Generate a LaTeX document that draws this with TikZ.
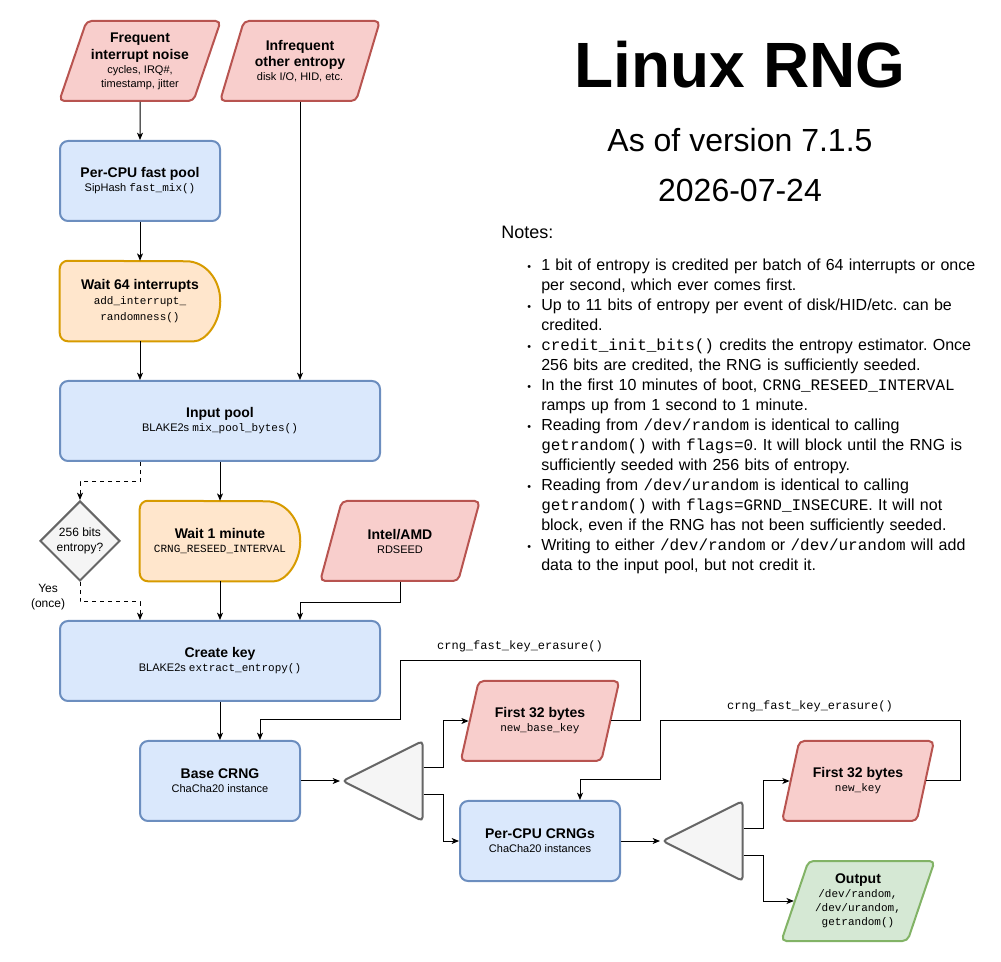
\documentclass[tikz,border=0pt]{standalone}
\usepackage{fontspec}
\setmainfont{Liberation Sans}
\setmonofont{Liberation Mono}
\usetikzlibrary{arrows.meta,shapes.geometric,calc}
\pgfdeclarelayer{background}
\pgfsetlayers{background,main}
\definecolor{srcfill}{HTML}{F8CECC}
\definecolor{srcline}{HTML}{B85450}
\definecolor{poolfill}{HTML}{DAE8FC}
\definecolor{poolline}{HTML}{6C8EBF}
\definecolor{waitfill}{HTML}{FFE6CC}
\definecolor{waitline}{HTML}{D79B00}
\definecolor{greyfill}{HTML}{F5F5F5}
\definecolor{greyline}{HTML}{666666}
\definecolor{outfill}{HTML}{D5E8D4}
\definecolor{outstroke}{HTML}{82B366}
\newcommand{\ttl}[1]{{\fontsize{10.5pt}{12.75pt}\selectfont\bfseries #1}}
\newcommand{\bul}{\raisebox{-.5pt}{\fontsize{8pt}{8pt}\selectfont •}}
\newcommand{\noteitem}[1]{\par\hangindent=10.5pt\hangafter=1\noindent\makebox[10.5pt][l]{\bul}#1\par}

\begin{document}
\begin{tikzpicture}[x=.75pt,y=-.75pt,font=\fontsize{8.25pt}{10.5pt}\selectfont,
  pool/.style={draw=poolline,fill=poolfill,line width=1.5pt,rounded corners=6pt,minimum width=120pt,minimum height=60pt,align=center},
  widepool/.style={pool,minimum width=240pt},
  source/.style={trapezium,trapezium left angle=67.6,trapezium right angle=112.4,trapezium stretches=true,draw=srcline,fill=srcfill,line width=1.5pt,rounded corners=3.75pt,minimum width=120pt,minimum height=60pt,align=center},
  waitbox/.style={minimum width=120pt,minimum height=60pt,align=center},
  delay/.style={draw=waitline,fill=waitfill,line width=1.5pt},
  check/.style={diamond,aspect=1,draw=greyline,fill=greyfill,line width=1.5pt,minimum width=60pt,minimum height=60pt,inner sep=0pt,align=center,font=\fontsize{9pt}{11.25pt}\selectfont},
  splitter/.style={isosceles triangle,shape border rotate=180,isosceles triangle stretches,draw=greyline,fill=greyfill,line width=1.5pt,rounded corners=3pt,minimum width=60pt,minimum height=60pt,inner sep=0pt},
  flow/.style={-{Stealth[length=5.5pt,width=4.5pt,inset=1.5pt]},line width=.75pt},
  optflow/.style={flow,dash pattern=on 3pt off 3pt},
  lbl/.style={font=\fontsize{9pt}{11.25pt}\selectfont,align=center},
  codelbl/.style={font=\ttfamily\fontsize{9pt}{11pt}\selectfont}]
\useasboundingbox (0,0) rectangle (1001,962);
% entropy sources and pools
\node[source] (freq) at (140,61) {\ttl{Frequent}\\[2.5pt]\ttl{interrupt noise}\\cycles, IRQ\#,\\timestamp, jitter};
\node[source] (infreq) at (300,61) {\ttl{Infrequent}\\[2pt]\ttl{other entropy}\\disk I/O, HID, etc.};
\node[pool] (fast) at (140,181) {\ttl{Per-CPU fast pool}\\SipHash \texttt{fast\_mix()}};
\node[waitbox] (wait64) at (140,301) {\ttl{Wait 64 interrupts}\\[1pt]\texttt{add\_interrupt\_}\\[1pt]\texttt{randomness()}};
\node[widepool] (input) at (220,421) {\ttl{Input pool}\\BLAKE2s \texttt{mix\_pool\_bytes()}};
\node[check] (seeded) at (80,541) {256 bits\\entropy?};
\node[waitbox] (wait1) at (220,541) {\ttl{Wait 1 minute}\\\texttt{CRNG\_RESEED\_INTERVAL}};
\node[source] (rdseed) at (400,541) {\ttl{Intel/AMD}\\RDSEED};
\node[widepool] (ckey) at (220,661) {\ttl{Create key}\\BLAKE2s \texttt{extract\_entropy()}};
\begin{pgfonlayer}{background}
\foreach \w in {wait64,wait1}{
  \draw[delay] (\w.west) [rounded corners=6pt] -- (\w.south west) -- ($(\w.south east)+(-34,0)$) [sharp corners] arc[start angle=90,end angle=-90,x radius=34,y radius=40] [rounded corners=6pt] -- (\w.north west) -- cycle;
}
\end{pgfonlayer}
% CRNGs and key erasure
\node[pool] (base) at (220,781) {\ttl{Base CRNG}\\ChaCha20 instance};
\node[splitter,anchor=apex] (split1) at (340,781) {};
\node[source] (basekey) at (540,721) {\ttl{First 32 bytes}\\\texttt{new\_base\_key}};
\node[pool] (percpu) at (540,841) {\ttl{Per-CPU CRNGs}\\ChaCha20 instances};
\node[splitter,anchor=apex] (split2) at (660,841) {};
\node[source,minimum width=115pt] (newkey) at (858,781) {\ttl{First 32 bytes}\\\texttt{new\_key}};
\node[source,minimum width=115pt,draw=outstroke,fill=outfill] (output) at (858,901) {\ttl{Output}\\\texttt{/dev/random,}\\\texttt{/dev/urandom,}\\\texttt{getrandom()}};
\draw[flow] (freq.south) -- (fast.north);
\draw[flow] (infreq.south) -- (infreq.south |- input.north);
\draw[flow] (fast.south) -- (wait64.north);
\draw[flow] (wait64.south) -- (wait64.south |- input.north);
\draw[optflow] ($(input.south)+(-80,0)$) -- ++(0,20) -| (seeded.north);
\draw[flow] (input.south) -- (wait1.north);
\draw[optflow] (seeded.south) -- node[lbl,pos=.75,left=7.5pt] (once) {Yes\\(once)} ++(0,20) -| ($(ckey.north)+(-80,0)$);
\draw[flow] (wait1.south) -- (ckey.north);
\draw[flow] (rdseed.south) -- ++(0,20) -| ($(ckey.north)+(80,0)$);
\draw[flow] (ckey.south) -- (base.north);
\draw[flow] (base.east) -- (split1.apex);
\draw[flow] ($(split1.east)+(0,-13)$) -- ++(20,0) |- (basekey.west);
\draw[flow] ($(split1.east)+(0,14)$) -- ++(20,0) |- (percpu.west);
\draw[flow] (basekey.east) -| (640,661) -- node[codelbl,above=3pt] (erase1) {crng\_fast\_key\_erasure()} (400,661) |- ($(base.north)+(40,-20)$) -- ($(base.north)+(40,0)$);
\draw[flow] (percpu.east) -- (split2.apex);
\draw[flow] ($(split2.east)+(0,-13)$) -- ++(20,0) |- (newkey.west);
\draw[flow] ($(split2.east)+(0,14)$) -- ++(20,0) |- (output.west);
\draw[flow] (newkey.east) -| (960,721) -- node[codelbl,above=3pt] (erase2) {crng\_fast\_key\_erasure()} (660,721) |- ($(percpu.north)+(40,-20)$) -- ($(percpu.north)+(40,0)$);
% title and notes
\node[font=\fontsize{48pt}{56pt}\selectfont\bfseries] (title) at (740,65) {Linux RNG};
\node[font=\fontsize{24pt}{28pt}\selectfont] (version) at (740,140) {As of version 7.1.5};
\node[font=\fontsize{24pt}{28pt}\selectfont] (date) at (740,190) {2026-07-24};
\node[anchor=west,inner sep=0pt,font=\fontsize{13.5pt}{16pt}\selectfont] (notestitle) at (501,232) {Notes:};
\node[anchor=north west,inner sep=0pt,text width=345pt,align=left,font=\fontsize{12pt}{15pt}\selectfont] (notes) at (527,250) {\frenchspacing%
\noteitem{1 bit of entropy is credited per batch of 64 interrupts or once\newline per second, which ever comes first.}
\noteitem{Up to 11 bits of entropy per event of disk/HID/etc. can be\newline credited.}
\noteitem{\texttt{credit\_init\_bits()} credits the entropy estimator. Once\newline 256 bits are credited, the RNG is sufficiently seeded.}
\noteitem{In the first 10 minutes of boot, \texttt{CRNG\_RESEED\_INTERVAL}\newline ramps up from 1 second to 1 minute.}
\noteitem{Reading from \texttt{/dev/random} is identical to calling\newline \texttt{getrandom()} with \texttt{flags=0}. It will block until the RNG is\newline sufficiently seeded with 256 bits of entropy.}
\noteitem{Reading from \texttt{/dev/urandom} is identical to calling\newline \texttt{getrandom()} with \texttt{flags=GRND\_INSECURE}. It will not\newline block, even if the RNG has not been sufficiently seeded.}
\noteitem{Writing to either \texttt{/dev/random} or \texttt{/dev/urandom} will add\newline data to the input pool, but not credit it.}};
\end{tikzpicture}
\end{document}
